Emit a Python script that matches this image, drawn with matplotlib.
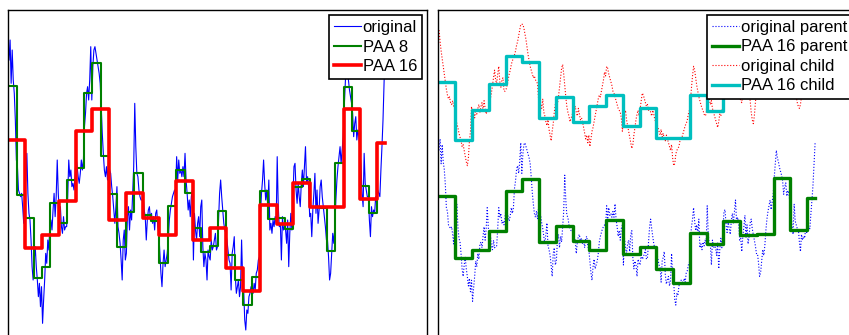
import numpy as np
import matplotlib
matplotlib.use("Agg")
import matplotlib.pyplot as plt

plt.rcParams['font.family'] = ['Liberation Sans', 'DejaVu Sans']

# original (parent) series, 360 points, written in blocks of 8
original = [
    4.2, 4.8, 3.5, 4.5, 3.6, 3.2, 2.4, 1.2,
    1.0, 0.3, 0.2, 0.1, 0.2, -0.2, -0.7, 0.3,
    0.6, 1.4, 0.2, -0.4, -0.6, -1.2, -2.0, -2.4,
    -1.8, -1.4, -2.0, -2.4, -2.9, -2.5, -3.2, -2.6,
    -3.7, -3.0, -2.4, -1.6, -1.9, -1.2, -1.5, -0.7,
    -0.6, -0.9, -0.3, 0.2, -0.5, 0.1, 1.2, 0.2,
    -0.4, -0.2, -0.8, -1.0, -0.5, -0.9, -0.8, -0.8,
    0.1, 1.2, 0.7, 0.9, 0.4, 0.5, 0.3, 0.7,
    1.3, 1.0, 0.7, 0.5, 0.8, 1.2, 0.9, 1.2,
    2.2, 2.6, 3.2, 3.4, 3.0, 3.6, 4.6, 3.0,
    4.0, 4.5, 4.6, 4.4, 4.2, 4.0, 3.8, 3.5,
    2.8, 2.0, 1.4, 0.9, 0.7, 1.0, 0.6, 1.2,
    0.9, 0.8, 0.4, 0.1, -0.3, -0.7, -0.2, 0.4,
    -0.8, -1.0, -1.3, -1.8, -2.4, -1.2, -0.9, -1.8,
    -1.6, -0.5, -0.2, -0.9, -0.3, -0.6, 0.2, 1.0,
    2.9, 1.6, 0.8, 0.7, 0.3, 0.1, 0.0, 0.0,
    0.1, -0.3, -0.5, -1.2, -0.6, -0.3, -0.2, -0.6,
    -0.4, -0.7, -0.5, -0.9, -0.4, -0.3, -0.8, -1.0,
    -1.6, -2.2, -2.6, -1.9, -1.5, -2.0, -1.8, -1.6,
    -1.2, -0.6, -0.3, -0.1, 0.1, 0.2, 0.3, 0.2,
    1.3, 0.6, 1.2, 0.8, 0.9, 0.7, 1.0, 0.7,
    1.4, 0.6, 0.2, -0.3, 0.0, -0.5, 0.1, 0.3,
    -1.8, -0.4, -0.9, -1.2, -0.7, -0.5, -1.1, -0.2,
    0.0, -1.4, -2.0, -1.6, -1.8, -2.4, -1.5, -1.7,
    -1.8, -1.2, -1.5, -1.4, -1.2, -1.0, -1.5, -1.4,
    -0.6, 0.2, 0.6, 0.1, -0.3, -0.7, -0.9, -1.0,
    -1.2, -1.5, -1.8, -1.9, -2.7, -1.6, -1.4, -1.1,
    -2.3, -2.8, -2.6, -2.4, -2.9, -2.6, -1.2, -2.4,
    -2.7, -3.6, -3.9, -3.3, -3.4, -2.9, -2.8, -2.6,
    -2.6, -2.8, -2.5, -2.7, -2.2, -2.1, -1.8, -1.7,
    -0.4, 0.2, 0.6, 1.2, 0.5, 0.0, 0.3, -0.2,
    0.6, -0.9, -0.7, -1.0, -0.6, -0.8, -0.5, -0.7,
    1.3, -0.2, -0.8, -0.7, -1.8, -0.5, -0.9, -0.8,
    -0.9, -1.3, -0.6, -2.0, -1.0, -0.4, -0.9, 0.1,
    1.0, 1.1, 0.3, -0.1, 0.5, 0.1, -0.2, 0.5,
    0.9, 0.4, 1.0, 1.6, 0.5, 0.7, 0.4, -0.5,
    -0.4, -1.1, -0.3, 0.2, 0.8, -0.4, 0.3, -0.7,
    -0.3, 0.4, 0.6, 0.1, -0.2, -0.5, -0.8, -1.2,
    -1.2, -1.7, -2.4, -2.2, -1.6, -1.0, -1.3, -0.8,
    0.0, 0.6, 1.0, 1.3, 1.6, 1.1, 1.5, 1.9,
    2.8, 3.5, 4.2, 3.8, 3.6, 3.3, 3.1, 2.9,
    2.6, 1.9, 2.3, 2.5, 1.8, 2.1, 1.9, 1.5,
    1.0, 0.2, -0.2, 1.4, 0.5, 0.3, 0.1, 0.1,
    -0.6, -1.1, -0.2, -0.5, -0.3, -0.4, 0.1, -0.1,
    0.3, 0.2, 0.1, 0.9, 1.6, 2.4, 3.5, 4.6,
]

# child series, 360 points, written in blocks of 16
child = [
    4.5, 3.9, 3.4, 3.0, 2.6, 2.2, 1.8, 1.4, 1.1, 0.9, 1.0, 0.7, 0.6, 0.8, 0.5, 0.4,
    -0.1, -0.4, -0.6, -0.9, -1.1, -1.3, -1.6, -1.5, -1.8, -2.1, -2.4, -2.6, -2.2, -1.3, -0.8, 0.5,
    0.0, 0.2, -0.1, 0.3, 0.1, 0.4, 0.6, 0.2, 0.5, 0.7, 0.3, 0.8, 0.4, 0.1, 0.3, 0.2,
    0.6, 0.9, 1.2, 1.6, 2.0, 2.4, 1.9, 1.7, 2.2, 2.6, 1.8, 1.5, 1.9, 2.0, 1.3, 1.3,
    1.4, 1.6, 1.9, 2.2, 2.4, 2.7, 2.9, 3.0, 3.2, 3.4, 3.7, 3.9, 4.2, 4.5, 4.8, 4.8,
    4.8, 4.6, 4.3, 4.0, 3.6, 3.2, 2.9, 2.6, 2.4, 2.2, 2.0, 2.1, 1.9, 1.8, 1.7, 0.9,
    0.8, 0.6, 0.4, 0.9, 0.2, 0.0, -0.3, -0.5, -0.2, -0.7, -1.0, -1.3, -0.8, -0.4, 0.2, 0.6,
    0.3, 0.6, 1.0, 1.5, 2.0, 2.5, 2.7, 2.2, 1.6, 1.0, 0.5, 0.2, 0.0, -0.3, -0.1, 0.0,
    0.4, 0.3, 0.5, 0.2, 0.0, 0.4, 0.1, -0.2, -0.1, -0.3, -0.6, -0.9, -1.2, -1.0, -1.4, -1.0,
    -1.6, -1.2, -0.8, -0.6, -0.3, 0.0, 0.3, 0.6, 0.9, 1.1, 1.0, 1.3, 1.6, 1.9, 2.3, 2.1,
    2.6, 2.5, 2.2, 2.0, 1.8, 1.6, 1.3, 1.2, 1.0, 0.8, 0.6, 0.4, 0.3, 0.2, -0.1, -0.8,
    -0.3, 0.1, 0.3, -0.2, -0.5, -0.8, -1.1, -1.4, -1.7, -1.5, -1.0, -0.6, -0.2, 0.1, 0.3, 0.0,
    0.4, 0.8, 1.2, 1.1, 0.9, 0.7, 0.5, 0.6, 0.3, 0.4, 0.2, 0.0, 0.3, 0.1, -0.2, -0.3,
    -0.4, -0.6, -0.8, -1.0, -0.7, -1.1, -0.9, -1.2, -1.3, -1.0, -1.2, -1.4, -1.6, -1.8, -1.5, -2.2,
    -2.6, -2.5, -2.0, -1.8, -1.7, -1.6, -1.3, -1.2, -1.1, -0.9, -0.7, -0.5, -0.4, -0.2, 0.1, 0.3,
    0.8, 1.5, 2.1, 2.6, 2.4, 2.0, 1.6, 1.3, 1.0, 0.8, 0.6, 0.4, 0.3, 0.1, 0.0, 0.1,
    1.0, 1.3, 0.9, 0.6, 0.8, 0.4, 0.2, 0.0, -0.2, -0.4, -0.6, -0.3, 0.1, 0.0, 0.3, 0.4,
    1.6, 2.0, 2.3, 2.1, 1.8, 1.5, 1.3, 1.1, 1.0, 1.2, 1.4, 1.6, 1.3, 1.1, 1.0, 1.0,
    0.8, 0.7, 1.3, 1.9, 2.5, 2.9, 2.6, 2.1, 1.4, 0.8, 0.2, -0.2, -0.4, 0.0, 0.7, 1.3,
    1.4, 1.2, 1.3, 1.5, 1.8, 2.1, 2.4, 2.7, 3.0, 3.2, 3.1, 2.8, 2.5, 2.2, 1.9, 1.6,
    1.4, 1.8, 2.2, 2.6, 3.0, 3.2, 3.0, 2.7, 2.4, 2.1, 1.8, 1.6, 1.4, 1.5, 1.7, 1.6,
    2.2, 2.0, 1.8, 1.6, 1.3, 1.0, 0.7, 0.5, 0.4, 0.6, 1.0, 1.5, 2.0, 2.4, 2.6, 2.8,
    2.2, 2.4, 2.6, 2.9, 3.1, 3.4, 3.6, 3.8,
]

child_offset = 6.0


def paa(series, w):
    s = np.asarray(series, dtype=float)
    out = np.empty_like(s)
    for start in range(0, len(s), w):
        out[start:start + w] = s[start:start + w].mean()
    return out


x = np.arange(1, len(original) + 1)
orig = np.array(original)
chil = np.array(child) + child_offset

fig = plt.figure(figsize=(8.49, 3.35), dpi=100)
ax1 = fig.add_axes([8 / 849, -10 / 335, 419 / 849, 1.0])
ax2 = fig.add_axes([438 / 849, -10 / 335, 419 / 849, 1.0])

ax1.plot(x, orig, color='#0000ff', lw=0.8, label='original')
ax1.plot(x, paa(orig, 8), color='#008000', lw=1.5, drawstyle='steps-mid', label='PAA 8')
ax1.plot(x, paa(orig, 16), color='#ff0000', lw=2.6, drawstyle='steps-mid', label='PAA 16')
ax1.set_xlim(0, 400)
ax1.set_ylim(-4.35, 5.7)

ax2.plot(x, orig, color='#0000ff', lw=0.8, ls=':', label='original parent')
ax2.plot(x, paa(orig, 16), color='#008000', lw=2.4, drawstyle='steps-mid', label='PAA 16 parent')
ax2.plot(x, chil, color='#ff0000', lw=0.8, ls=':', label='original child')
ax2.plot(x, paa(chil, 16), color='#00bfbf', lw=2.4, drawstyle='steps-mid', label='PAA 16 child')
ax2.set_xlim(0, 400)
ax2.set_ylim(-5.99, 11.55)

for ax in (ax1, ax2):
    ax.set_xticks([])
    ax.set_yticks([])
    for sp in ax.spines.values():
        sp.set_color('black')
        sp.set_linewidth(1.0)
    leg = ax.legend(loc='upper right', fontsize=12, labelspacing=0.27,
                    handlelength=1.6, handletextpad=0.1, borderpad=0.3,
                    borderaxespad=0.3, fancybox=False, framealpha=1.0,
                    edgecolor='black')
    leg.get_frame().set_linewidth(1.2)

fig.savefig('out.png', dpi=100)
